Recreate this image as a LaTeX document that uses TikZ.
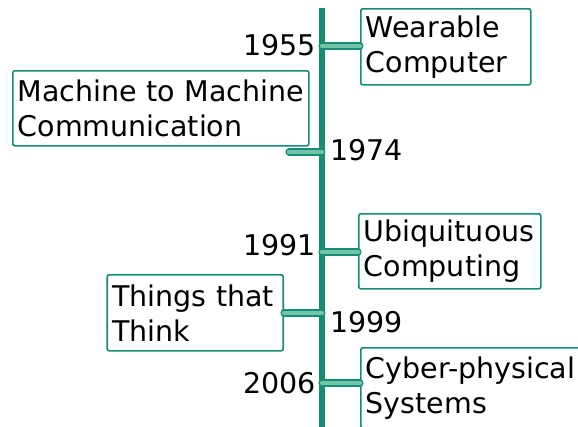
\documentclass[tikz,border=0pt]{standalone}
\usepackage{fontspec}
\setmainfont{DejaVu Sans}
\usepackage{tikz}
\usetikzlibrary{positioning}

\definecolor{axisteal}{RGB}{22,140,116}
\definecolor{tickfill}{RGB}{112,196,170}

\tikzset{
  eventbox/.style={draw=axisteal, line width=1.6pt, rounded corners=2pt, fill=white,
    align=left, inner xsep=5pt, inner ysep=3pt, font=\fontsize{28.5}{35}\selectfont},
  yearlbl/.style={inner sep=0pt, font=\fontsize{28.5}{35}\selectfont},
  tickbar/.style={draw=axisteal, line width=1.3pt, double=tickfill, double distance=4.5pt, line cap=round}
}

\begin{document}
\begin{tikzpicture}[x=1pt, y=-1pt]
\useasboundingbox (0,0) rectangle (578,426);
% axis
\coordinate (top) at (322,8);
\coordinate (bot) at (322,430);
\draw [axisteal, line width=6pt] (top) -- (bot);
% events
\node [eventbox, anchor=north west, minimum height=76pt, text width=160pt] (wear) at (360,8) {Wearable\\Computer};
\node [eventbox, anchor=north west, minimum height=75pt, text width=286pt] (m2m) at (12,70) {\mbox{Machine to Machine}\\Communication};
\node [eventbox, anchor=north west, minimum height=75pt, text width=172pt] (ubi) at (358,213) {Ubiquituous\\Computing};
\node [eventbox, anchor=north east, minimum height=76pt, text width=166pt] (things) at (284,274) {Things that\\Think};
\node [eventbox, anchor=north west, minimum height=80pt, text width=224pt] (cps) at (360,347) {Cyber-physical\\Systems};
% ticks
\coordinate (t1955) at (322,46);
\coordinate (t1974) at (322,152);
\coordinate (t1991) at (322,252);
\coordinate (t1999) at (322,313);
\coordinate (t2006) at (322,383);
\coordinate (e1974) at (289,152);
\draw [tickbar] (t1955) -- (t1955 -| wear.west);
\draw [tickbar] (t1974) -- (e1974);
\draw [tickbar] (t1991) -- (t1991 -| ubi.west);
\draw [tickbar] (t1999) -- (t1999 -| things.east);
\draw [tickbar] (t2006) -- (t2006 -| cps.west);
% years
\node [yearlbl, anchor=east] (y1955) at (316,45) {1955};
\node [yearlbl, anchor=west] (y1974) at (330,150) {1974};
\node [yearlbl, anchor=east] (y1991) at (316,245) {1991};
\node [yearlbl, anchor=west] (y1999) at (330,322) {1999};
\node [yearlbl, anchor=east] (y2006) at (316,383) {2006};
\end{tikzpicture}
\end{document}
